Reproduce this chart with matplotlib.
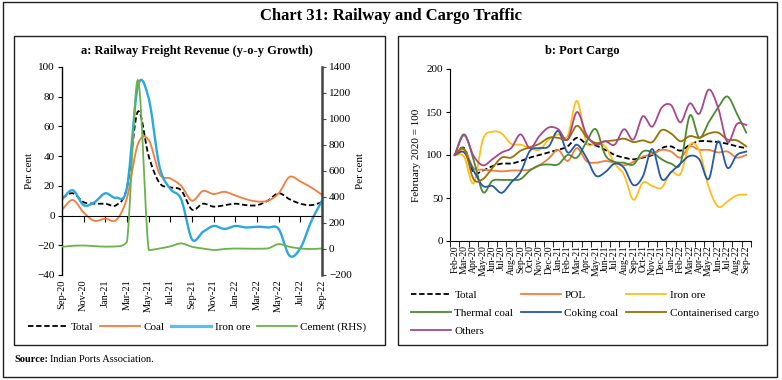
import numpy as np
import matplotlib
matplotlib.use("Agg")
import matplotlib.pyplot as plt
from matplotlib.patches import Rectangle

plt.rcParams['font.family'] = ['Liberation Serif', 'DejaVu Serif']

# ---- panel a: railway freight revenue (y-o-y growth), Sep-20 .. Sep-22
months_a = ['Sep-20', 'Oct-20', 'Nov-20', 'Dec-20', 'Jan-21', 'Feb-21', 'Mar-21', 'Apr-21',
            'May-21', 'Jun-21', 'Jul-21', 'Aug-21', 'Sep-21', 'Oct-21', 'Nov-21', 'Dec-21',
            'Jan-22', 'Feb-22', 'Mar-22', 'Apr-22', 'May-22', 'Jun-22', 'Jul-22', 'Aug-22', 'Sep-22']
total_a = [12, 15, 9, 8, 8, 7, 19, 70, 40, 22, 19, 17, 4, 8, 6, 7, 8, 7, 7, 10, 15, 11, 8, 7, 9]
coal_a = [4, 10.5, 2, -3.5, -2, -3, 12, 48, 51, 28, 25, 20, 10, 16.5, 14.5, 16, 13.5, 11, 9.5, 10,
          15, 26, 23, 19, 14]
iron_a = [11, 17, 7, 9, 15, 12, 19, 87, 79, 33, 18, 11, -16, -11, -7, -9, -7, -8, -7.5, -8, -9,
          -27, -22, -4, 10]
cement_a = [17, 25, 27, 22, 18, 20, 56, 1300, -8, 4, 20, 43, 17, 4, -8, 0, 4, 2, 2, 4, 38, 17, 4, 0, 4]

# ---- panel b: port cargo index, Feb-20 .. Sep-22 (February 2020 = 100)
months_b = ['Feb-20', 'Mar-20', 'Apr-20', 'May-20', 'Jun-20', 'Jul-20', 'Aug-20', 'Sep-20',
            'Oct-20', 'Nov-20', 'Dec-20', 'Jan-21', 'Feb-21', 'Mar-21', 'Apr-21', 'May-21',
            'Jun-21', 'Jul-21', 'Aug-21', 'Sep-21', 'Oct-21', 'Nov-21', 'Dec-21', 'Jan-22',
            'Feb-22', 'Mar-22', 'Apr-22', 'May-22', 'Jun-22', 'Jul-22', 'Aug-22', 'Sep-22']
total_b = [100, 108, 80, 82, 87, 90, 90, 93, 97, 100, 103, 106, 110, 120, 113, 111, 106, 100, 97,
           95, 97, 100, 108, 110, 105, 112, 116, 116, 115, 113, 110, 108]
pol_b = [100, 106, 85, 83, 82, 81, 82, 82, 83, 88, 96, 106, 93, 108, 93, 91, 93, 91, 88, 92, 98,
         101, 106, 104, 97, 110, 106, 106, 103, 104, 97, 100]
iron_b = [100, 98, 67, 118, 127, 125, 113, 112, 108, 106, 118, 124, 122, 163, 115, 113, 110, 90,
          77, 48, 68, 64, 62, 80, 78, 112, 105, 63, 40, 46, 53, 54]
thermal_b = [100, 124, 95, 57, 70, 71, 71, 72, 82, 88, 89, 89, 100, 97, 115, 130, 100, 92, 91, 89,
             104, 103, 95, 90, 90, 146, 120, 138, 155, 168, 148, 126]
coking_b = [100, 103, 82, 64, 64, 56, 68, 80, 105, 108, 110, 128, 103, 112, 97, 76, 80, 90, 85, 65,
            75, 107, 72, 80, 90, 99, 95, 72, 116, 85, 100, 104]
container_b = [100, 107, 72, 72, 85, 97, 97, 105, 109, 113, 120, 120, 118, 134, 121, 114, 116, 117,
               119, 115, 117, 115, 129, 125, 116, 122, 120, 125, 126, 118, 117, 110]
others_b = [100, 123, 99, 88, 95, 103, 108, 124, 108, 122, 132, 130, 118, 150, 124, 112, 116, 112,
            130, 118, 145, 133, 155, 158, 138, 160, 148, 176, 155, 115, 136, 135]


def smooth(y, n=16, limit=False):
    # cubic Hermite curve through the points (Catmull-Rom tangents, like Excel's smoothed line);
    # limit=True clamps the tangents so a spike does not swing past its neighbours
    y = np.asarray(y, float)
    d = np.diff(y)
    m = np.empty_like(y)
    m[1:-1] = (y[2:] - y[:-2]) / 2
    m[0], m[-1] = d[0], d[-1]
    m0, m1 = m[:-1].copy(), m[1:].copy()
    if limit:
        for k in range(len(d)):
            if d[k] == 0:
                m0[k] = m1[k] = 0
                continue
            a, b = m0[k] / d[k], m1[k] / d[k]
            a, b = max(a, 0), max(b, 0)
            s = a * a + b * b
            if s > 9:
                a, b = a * 3 / np.sqrt(s), b * 3 / np.sqrt(s)
            m0[k], m1[k] = a * d[k], b * d[k]
    t = np.linspace(0, 1, n, endpoint=False)[None, :]
    h00 = 2 * t ** 3 - 3 * t ** 2 + 1
    h10 = t ** 3 - 2 * t ** 2 + t
    h01 = -2 * t ** 3 + 3 * t ** 2
    h11 = t ** 3 - t ** 2
    ys = h00 * y[:-1, None] + h10 * m0[:, None] + h01 * y[1:, None] + h11 * m1[:, None]
    xs = np.arange(len(y) - 1)[:, None] + t
    return np.append(xs.ravel(), len(y) - 1), np.append(ys.ravel(), y[-1])


fig = plt.figure(figsize=(7.82, 3.8), dpi=100)
W, H = 782, 380


def frac(x0, y0, x1, y1):
    return [x0 / W, 1 - y1 / H, (x1 - x0) / W, (y1 - y0) / H]


# frames
fig.patches.append(Rectangle((3 / W, 1 - 377 / H), 774 / W, 375 / H, transform=fig.transFigure,
                             fill=False, lw=1.0, ec='#222222'))
for x0, x1 in [(14, 385), (398, 767)]:
    fig.patches.append(Rectangle((x0 / W, 1 - 345 / H), (x1 - x0) / W, (345 - 36) / H,
                                 transform=fig.transFigure, fill=False, lw=1.0, ec='#222222'))

fig.text(0.5, 1 - 16 / H, 'Chart 31: Railway and Cargo Traffic', ha='center', va='center',
         fontsize=12, fontweight='bold')
fig.text(197 / W, 1 - 51 / H, 'a: Railway Freight Revenue (y-o-y Growth)', ha='center',
         va='center', fontsize=9, fontweight='bold')
fig.text(582 / W, 1 - 51 / H, 'b: Port Cargo', ha='center', va='center', fontsize=9,
         fontweight='bold')
fig.text(14 / W, 1 - 360 / H, 'Source:', ha='left', va='center', fontsize=7.5, fontweight='bold')
fig.text(50 / W, 1 - 360 / H, 'Indian Ports Association.', ha='left', va='center', fontsize=7.5)

# ---------------- panel a
ax = fig.add_axes(frac(62, 67, 322, 275))
ax2 = ax.twinx()
xa = np.arange(len(months_a))

l1, = ax.plot(*smooth(total_a), color='black', lw=1.3, ls=(0, (3, 1.5)), label='Total')
l2, = ax.plot(*smooth(coal_a), color='#F47C3C', lw=1.3, label='Coal')
l3, = ax.plot(*smooth(iron_a), color='#2BA8E0', lw=1.7, label='Iron ore')
l4, = ax2.plot(*smooth(cement_a, limit=True), color='#6AB24A', lw=1.3, label='Cement (RHS)')

ax.set_xlim(0, len(months_a) - 1)
ax.set_ylim(-40, 100)
ax.set_yticks(range(-40, 101, 20))
ax2.set_ylim(-200, 1400)
ax2.set_yticks(range(-200, 1401, 200))
ax.set_ylabel('Per cent', fontsize=8, labelpad=3)
ax2.set_ylabel('Per cent', fontsize=8, labelpad=3)

for a in (ax, ax2):
    a.spines['top'].set_visible(False)
ax.spines['right'].set_visible(False)
ax2.spines['left'].set_visible(False)
ax2.spines['bottom'].set_visible(False)
ax2.spines['right'].set_color('#444444')
ax2.spines['right'].set_linewidth(1.8)
ax.spines['left'].set_linewidth(1.0)
ax.spines['bottom'].set_position(('data', 0))
ax.set_xticks(xa[::2])
ax.tick_params(axis='x', direction='out', length=4, labelbottom=False)
ax.tick_params(axis='y', direction='out', length=3, labelsize=8, pad=2)
ax2.tick_params(axis='y', direction='out', length=3, labelsize=8, pad=2, color='#444444')

sec = ax.secondary_xaxis('bottom')
sec.set_xticks(xa[::2])
sec.set_xticklabels(months_a[::2], rotation=90, fontsize=7.5)
sec.tick_params(length=0, pad=3)
sec.spines['bottom'].set_visible(False)

leg_a = fig.legend(handles=[l1, l2, l3, l4], loc='center', bbox_to_anchor=(197 / W, 1 - 327 / H),
                   ncol=4, frameon=False, fontsize=8, handlelength=3.6, columnspacing=0.6,
                   handletextpad=0.3)
leg_a.get_lines()[2].set_linewidth(2.3)
leg_a.get_lines()[2].set_color('#5BBDE8')

# ---------------- panel b
bx = fig.add_axes(frac(450, 69, 751, 241))
xb = np.arange(len(months_b))
series_b = [
    ('Total', total_b, 'black', (0, (3, 1.5))),
    ('POL', pol_b, '#F47C3C', '-'),
    ('Iron ore', iron_b, '#FFBE1A', '-'),
    ('Thermal coal', thermal_b, '#4A8A30', '-'),
    ('Coking coal', coking_b, '#2458A8', '-'),
    ('Containerised cargo', container_b, '#9A7000', '-'),
    ('Others', others_b, '#A8468E', '-'),
]
hb = {}
for name, vals, col, ls in series_b:
    hb[name], = bx.plot(*smooth(vals), color=col, lw=1.3, ls=ls, label=name)

bx.set_xlim(-0.5, len(months_b) - 0.5)
bx.set_ylim(0, 200)
bx.set_yticks(range(0, 201, 50))
bx.set_xticks(xb)
bx.set_xticklabels(months_b, rotation=90, fontsize=7)
bx.set_xticks(np.arange(-0.5, len(months_b), 1), minor=True)
bx.tick_params(axis='x', which='major', length=0, pad=3)
bx.tick_params(axis='x', which='minor', length=4, direction='out')
bx.tick_params(axis='y', direction='out', length=3, labelsize=8, pad=2)
bx.spines['top'].set_visible(False)
bx.spines['right'].set_visible(False)
bx.set_ylabel('February 2020 = 100', fontsize=8, labelpad=4)

order = ['Total', 'Thermal coal', 'Others', 'POL', 'Coking coal', 'Iron ore', 'Containerised cargo']
fig.legend(handles=[hb[k] for k in order], loc='upper left', bbox_to_anchor=(401 / W, 1 - 280 / H),
           ncol=3, frameon=False, fontsize=8, handlelength=3.6, columnspacing=0.7,
           handletextpad=0.3, labelspacing=0.75)

fig.savefig('out.png', dpi=100)
